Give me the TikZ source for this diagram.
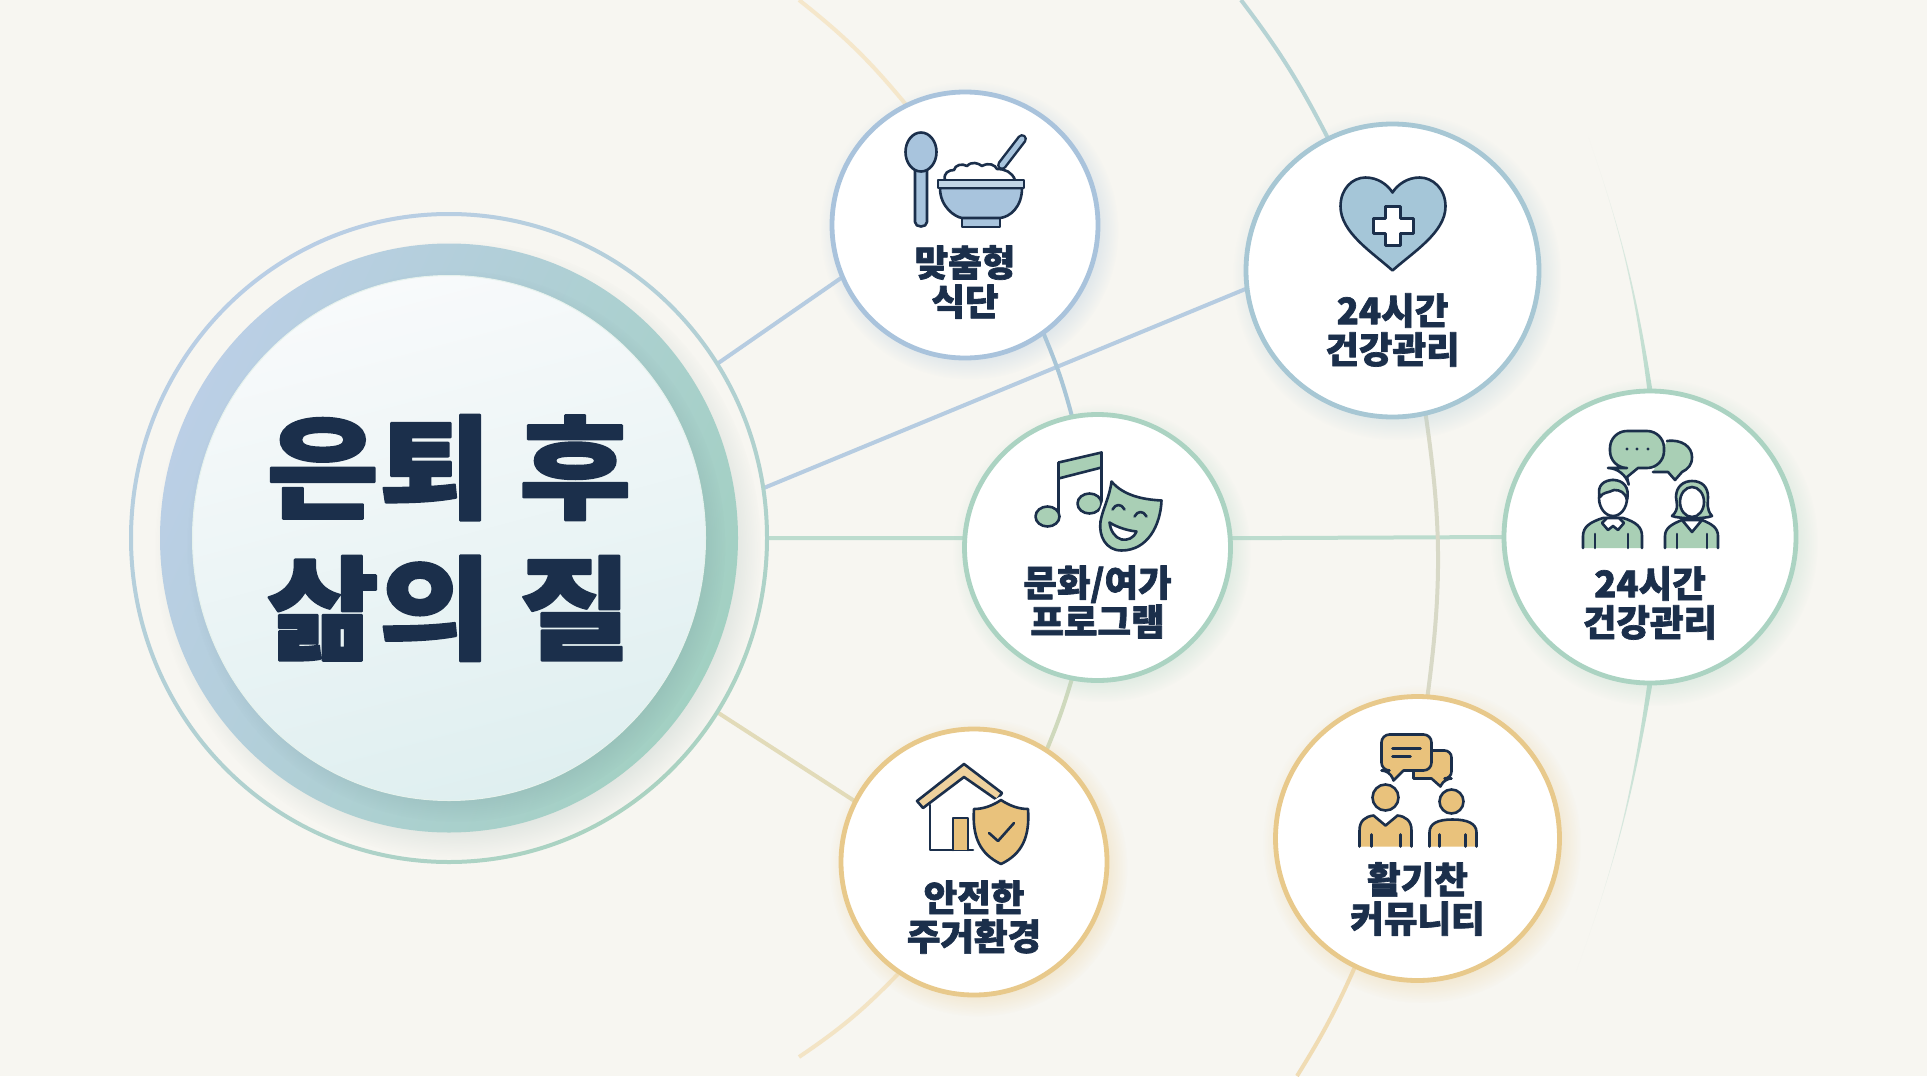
\documentclass[tikz,border=0pt]{standalone}
\usepackage{fontspec}
\setmainfont{Noto Sans CJK KR}[BoldFeatures={FakeBold=1.9}]
\usetikzlibrary{backgrounds, shadows, shapes.geometric}
\definecolor{paper}{HTML}{F7F6F1}
\definecolor{navy}{HTML}{1B2F4B}
\definecolor{ringblue}{HTML}{A9C3DC}
\definecolor{ringteal}{HTML}{A7C7D4}
\definecolor{ringgreen}{HTML}{ABD3C2}
\definecolor{ringtan}{HTML}{E8C98B}
\definecolor{fillblue}{HTML}{A8C4DD}
\definecolor{fillteal}{HTML}{A5C6D8}
\definecolor{fillgreen}{HTML}{A9CFB5}
\definecolor{filltan}{HTML}{E9C27C}
\definecolor{bandblue}{HTML}{BBCFE6}
\definecolor{bandgreen}{HTML}{A2D0C2}
\definecolor{discpale}{HTML}{F8FAFB}
\definecolor{disclow}{HTML}{DFEFF0}

\begin{document}
\begin{tikzpicture}[x=1pt,y=-1pt,line join=round]
                \tikzstyle{badge}=[circle,draw=#1,line width=4.8pt,fill=white,inner sep=0pt,outer sep=0pt,
                    circular drop shadow={shadow xshift=4pt,shadow yshift=-5pt,shadow scale=1.12,fill=#1,opacity=.3}]
                \tikzstyle{tag}=[align=center,text=navy,font=\fontsize{36.5}{39}\selectfont\bfseries,inner sep=0pt]
                \tikzstyle{wire}=[line width=4pt]
                \tikzstyle{ink}=[draw=navy,line width=2.6pt,line cap=round]
                \useasboundingbox (0,0) rectangle (1927,1076);

                \node[ellipse,minimum width=636pt,minimum height=648pt,inner sep=0pt,outer sep=0pt] (core) at (449,538) {};
                \node[badge=ringblue,minimum size=266pt]  (meal)[right of=core,node distance=516pt,yshift=313pt]      {};
                \node[badge=ringteal,minimum size=293pt]  (health)[right of=core,node distance=943.5pt,yshift=267.5pt] {};
                \node[badge=ringgreen,minimum size=266pt] (culture)[right of=core,node distance=648.5pt,yshift=-9.5pt] {};
                \node[badge=ringgreen,minimum size=292pt] (talk)[right of=culture,node distance=552.5pt,yshift=10.5pt] {};
                \node[badge=ringtan,minimum size=266pt]   (home)[right of=core,node distance=525pt,yshift=-324pt]     {};
                \node[badge=ringtan,minimum size=284pt]   (club)[right of=core,node distance=968.5pt,yshift=-300.5pt] {};

                \coordinate (innertop) at (799,0);
                \coordinate (innerend) at (799,1057);
                \coordinate (midtop) at (1241,0);
                \coordinate (midend) at (1297,1076);
                \coordinate (outertop) at (1587,133);
                \coordinate (outerend) at (1575,975);

                \begin{scope}[on background layer]
                    \fill[paper] (0,0) rectangle (1927,1076);
                    \path[wire]
                    (core.33.4) edge[draw=ringblue!85]            (meal.203.9)
                    (core.9)    edge[draw=ringblue!85]            (health.187.6)
                    (core.0)    edge[draw=ringgreen!80]           (culture.176)
                    (culture.4.1) edge[draw=ringgreen!80]         (talk.180)
                    (core.-33.2) edge[draw=ringtan!70!ringgreen!70] (home.153.8)
                    (meal.-54)  edge[draw=ringblue!80!ringgreen,bend left=4]  (culture.101)
                    (culture.-101.8) edge[draw=ringgreen!60!ringtan!80,bend left=3] (home.57)
                    (innertop)  edge[draw=ringtan!45,bend left=6] (meal.116.6)
                    (home.-124.5) edge[draw=ringtan!50,bend left=6] (innerend)
                    (midtop)    edge[draw=ringteal!60!ringgreen!85,bend left=5] (health.116.3)
                    (health.-77.2) edge[draw=ringtan!50!ringteal!70,bend left=8] (club.86.2)
                    (club.-116.3) edge[draw=ringtan!65,bend left=4] (midend);
                    \shade[top color=paper,bottom color=ringgreen!85] (talk.91) to[bend right=6] (outertop) to[bend left=5] (talk.89.5) -- cycle;
                    \shade[top color=ringgreen!85,bottom color=paper] (talk.-91) to[bend left=6] (outerend) to[bend right=5] (talk.-89.5) -- cycle;
                \end{scope}

                \shade[even odd rule,top color=bandblue!90!ringblue,bottom color=ringgreen,shading angle=35]
                (core) circle[x radius=320pt,y radius=326pt] (core) circle[x radius=316pt,y radius=322pt];
                \shade[top color=bandblue,bottom color=bandgreen,shading angle=65,
                    circular drop shadow={shadow xshift=9pt,shadow yshift=-11pt,shadow scale=1.05,fill=navy!35!ringgreen,opacity=.25}]
                (core) circle[x radius=289pt,y radius=294.5pt];
                \shade[draw=white!70!ringgreen,line width=1pt,top color=discpale,bottom color=disclow,shading angle=15,
                    circular drop shadow={shadow xshift=7pt,shadow yshift=-8pt,shadow scale=1.05,fill=navy!55!ringgreen,opacity=.25}]
                (core) circle[x radius=256.5pt,y radius=262.5pt];
                \node[align=center,text=navy,inner sep=0pt,font=\fontsize{122}{153}\selectfont\bfseries,yscale=.92,transform shape] (title) at (core) {은퇴 후\\삶의 질};

                \node[tag] (mealtag)[below of=meal,node distance=57pt]      {맞춤형\\식단};
                \node[tag] (healthtag)[below of=health,node distance=59.5pt]  {24시간\\건강관리};
                \node[tag] (culturetag)[below of=culture,node distance=54.5pt] {문화/여가\\프로그램};
                \node[tag] (talktag)[below of=talk,node distance=66pt]      {24시간\\건강관리};
                \node[tag] (hometag)[below of=home,node distance=55pt]      {안전한\\주거환경};
                \node[tag] (clubtag)[below of=club,node distance=60.5pt]    {활기찬\\커뮤니티};

                \begin{scope}[shift={(meal)}]
                    \draw[ink,fill=fillblue] (-50,-57) -- (-50,-3) .. controls (-50,3) and (-38,3) .. (-38,-3) -- (-38,-57) -- cycle;
                    \draw[ink,fill=fillblue] (-44,-73) ellipse[x radius=15.5pt,y radius=19.5pt];
                    \draw[navy,line width=10pt,line cap=round] (37,-60) -- (57,-86);
                    \draw[fillblue,line width=5pt,line cap=round] (37,-60) -- (57,-86);
                    \draw[ink,fill=white] (-20,-45) .. controls (-22,-52) and (-16,-55) .. (-11,-55) .. controls (-10,-60) and (-3,-62) .. (2,-59)
                    .. controls (7,-64) and (13,-62) .. (17,-59) .. controls (24,-63) and (30,-60) .. (32,-56) .. controls (40,-56) and (47,-53) .. (50,-45);
                    \draw[ink,fill=fillblue] (-3,-8) -- (-3,2) -- (35,2) -- (35,-8);
                    \draw[ink,fill=fillblue] (-25,-37) .. controls (-25,-18) and (-10,-8) .. (-3,-7) -- (35,-7) .. controls (45,-8) and (57,-18) .. (57,-37) -- cycle;
                    \draw[ink,fill=fillblue!70!white] (-27,-45) rectangle (59,-37);
                \end{scope}

                \begin{scope}[shift={(health)}]
                    \draw[ink,fill=fillteal] (0,0) .. controls (-20,-18) and (-52,-38) .. (-52,-64) .. controls (-52,-82) and (-40,-93) .. (-27,-93)
                    .. controls (-15,-93) and (-5,-86) .. (0,-78) .. controls (5,-86) and (15,-93) .. (27,-93)
                    .. controls (40,-93) and (53,-82) .. (53,-64) .. controls (53,-38) and (20,-18) .. (0,0) -- cycle;
                    \draw[ink,fill=white] (-7,-64) -- (8,-64) -- (8,-52) -- (21,-52) -- (21,-37) -- (8,-37) -- (8,-25) -- (-7,-25) -- (-7,-37) -- (-19,-37) -- (-19,-52) -- (-7,-52) -- cycle;
                \end{scope}

                \begin{scope}[shift={(culture)}]
                    \draw[ink] (-39,-31) -- (-39,-84) (4,-44) -- (4,-95);
                    \draw[ink,fill=fillgreen] (-39,-85) -- (4,-95) -- (4,-80) -- (-39,-69) -- cycle;
                    \draw[ink,fill=fillgreen] (-50,-31) ellipse[x radius=12pt,y radius=10pt];
                    \draw[ink,fill=fillgreen] (-8,-44) ellipse[x radius=12pt,y radius=10pt];
                    \draw[white,line width=7pt,fill=white] (14,-66) .. controls (26,-52) and (45,-48) .. (64,-47) .. controls (63,-22) and (50,3) .. (24,3) .. controls (8,3) and (1,-12) .. (3,-26) .. controls (5,-38) and (12,-50) .. cycle;
                    \draw[ink,fill=fillgreen] (14,-66) .. controls (26,-52) and (45,-48) .. (64,-47) .. controls (63,-22) and (50,3) .. (24,3) .. controls (8,3) and (1,-12) .. (3,-26) .. controls (5,-38) and (12,-50) .. cycle;
                    \draw[ink] (15,-38) .. controls (18,-44) and (24,-44) .. (27,-38) (37,-31) .. controls (40,-37) and (46,-37) .. (49,-31);
                    \draw[ink,fill=white] (12,-25) .. controls (20,-20) and (30,-17) .. (39,-16) .. controls (36,-9) and (30,-7) .. (24,-8) .. controls (17,-10) and (13,-17) .. cycle;
                \end{scope}

                \begin{scope}[shift={(talk)}]
                    \draw[ink,fill=fillgreen] (17,-96) .. controls (32,-98) and (42,-90) .. (42,-80) .. controls (42,-72) and (38,-68) .. (32,-65) -- (25,-57) -- (18,-65) -- (3,-65);
                    \draw[ink,fill=fillgreen,rounded corners=17pt] (-10,-69) -- (14,-69) -- (14,-106) -- (-40,-106) -- (-40,-69) -- (-25,-69) [sharp corners] -- (-23,-60) -- (-12,-69) -- cycle;
                    \fill[navy] (-23,-88) circle[radius=1.7pt] (-13,-88) circle[radius=1.7pt] (-2,-88) circle[radius=1.7pt];
                    \draw[ink,fill=fillgreen] (-67,11) -- (-67,-1) .. controls (-67,-10) and (-60,-15) .. (-47,-19) -- (-27,-19) .. controls (-14,-15) and (-8,-10) .. (-8,-1) -- (-8,11);
                    \draw[ink] (-55,-3) -- (-55,11) (-22,-3) -- (-22,11);
                    \draw[ink,fill=white] (-37,-39) ellipse[x radius=14pt,y radius=18pt];
                    \draw[ink,fill=fillgreen] (-50,-40) .. controls (-54,-52) and (-45,-57) .. (-37,-57) .. controls (-27,-57) and (-20,-50) .. (-23,-37) .. controls (-25,-45) and (-30,-47) .. (-36,-47) .. controls (-42,-44) and (-47,-45) .. cycle;
                    \draw[ink,fill=white] (-43,-19) -- (-48,-14) -- (-42,-7) -- (-37,-11) -- (-32,-7) -- (-26,-14) -- (-31,-19) -- cycle;
                    \draw[ink,fill=fillgreen] (15,11) -- (15,-1) .. controls (15,-9) and (22,-13) .. (32,-17) -- (52,-17) .. controls (62,-13) and (68,-9) .. (68,-1) -- (68,11);
                    \draw[ink] (27,-3) -- (27,11) (57,-3) -- (57,11);
                    \draw[ink,fill=white] (32,-17) -- (42,-5) -- (52,-17) -- cycle;
                    \draw[ink,fill=fillgreen] (22,-21) .. controls (30,-28) and (26,-36) .. (26,-40) .. controls (26,-50) and (33,-56) .. (42,-56) .. controls (52,-56) and (58,-50) .. (58,-40) .. controls (58,-34) and (56,-28) .. (62,-21) .. controls (55,-18) and (30,-18) .. cycle;
                    \draw[ink,fill=white] (42,-35) ellipse[x radius=12pt,y radius=15pt];
                \end{scope}

                \begin{scope}[shift={(home)}]
                    \draw[ink] (-44,-57) -- (-44,-12) -- (-1,-12);
                    \draw[ink,fill=filltan] (-21,-12) -- (-21,-44) -- (-6,-44) -- (-6,-12);
                    \draw[ink,fill=filltan!75!white] (-10,-98) -- (-57,-61) -- (-51,-54) -- (-10,-85) -- (23,-62) -- (28,-69) -- cycle;
                    \draw[white,line width=7pt,fill=white] (27,-62) .. controls (36,-56) and (45,-53) .. (54,-53) .. controls (56,-25) and (48,-8) .. (27,2) .. controls (6,-8) and (-2,-25) .. (0,-53) .. controls (9,-53) and (18,-56) .. cycle;
                    \draw[ink,fill=filltan] (27,-62) .. controls (36,-56) and (45,-53) .. (54,-53) .. controls (56,-25) and (48,-8) .. (27,2) .. controls (6,-8) and (-2,-25) .. (0,-53) .. controls (9,-53) and (18,-56) .. cycle;
                    \draw[ink] (15,-29) -- (24,-21) -- (40,-39);
                \end{scope}

                \begin{scope}[shift={(club)}]
                    \draw[ink,fill=filltan,rounded corners=7pt] (-4,-88) -- (34,-88) -- (34,-60) -- (27,-60) [sharp corners] -- (23,-52) -- (14,-60) -- (-4,-60) -- cycle;
                    \draw[ink,fill=filltan,rounded corners=8pt] (-10,-68) -- (14,-68) -- (14,-104) -- (-36,-104) -- (-36,-68) -- (-28,-68) [sharp corners] -- (-24,-58) -- (-14,-68) -- cycle;
                    \draw[ink] (-25,-90) -- (3,-90) (-25,-82) -- (-7,-82);
                    \draw[ink,fill=filltan] (-32,-41) circle[radius=13pt];
                    \draw[ink,fill=filltan] (34,-37) circle[radius=12pt];
                    \draw[ink,fill=filltan] (-58,8) -- (-58,-8) .. controls (-58,-18) and (-52,-22) .. (-44,-23) -- (-32,-13) -- (-20,-23) .. controls (-12,-22) and (-6,-18) .. (-6,-8) -- (-6,8);
                    \draw[ink] (-46,-4) -- (-46,8) (-17,-4) -- (-17,8);
                    \draw[ink,fill=filltan] (12,8) -- (12,-6) .. controls (12,-15) and (20,-19) .. (35,-19) .. controls (50,-19) and (59,-15) .. (59,-6) -- (59,8);
                    \draw[ink] (22,-4) -- (22,8) (48,-4) -- (48,8);
                \end{scope}
            \end{tikzpicture}
\end{document}
